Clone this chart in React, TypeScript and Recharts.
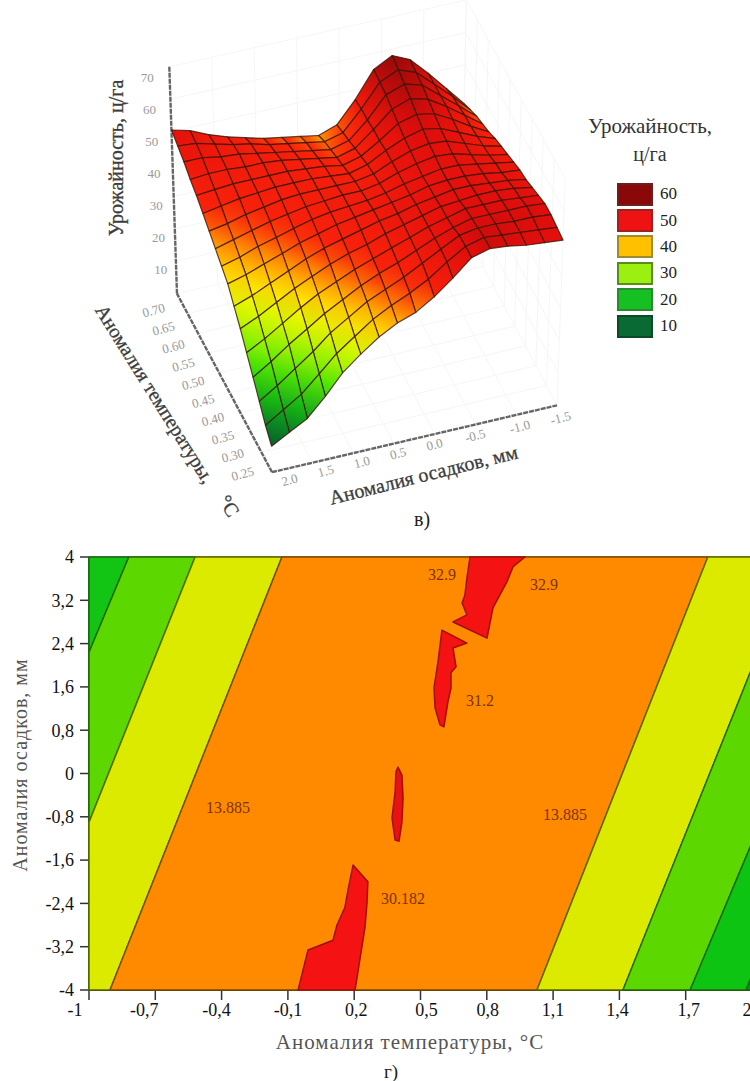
import { Legend, ReferenceLine, Scatter, ScatterChart, XAxis, YAxis } from 'recharts';

const SERIF = '"Liberation Serif", serif';

// surface: temperature anomaly (rows), precipitation anomaly (columns), yield
const tempGrid = [0.25, 0.278, 0.306, 0.334, 0.363, 0.391, 0.419, 0.447, 0.475, 0.503, 0.531, 0.559, 0.588, 0.616, 0.644, 0.672, 0.7];
const precipGrid = [2, 1.78, 1.56, 1.34, 1.13, 0.91, 0.69, 0.47, 0.25, 0.03, -0.19, -0.41, -0.63, -0.84, -1.06, -1.28, -1.5];
const yieldGrid = [
	[8, 11, 14, 19.5, 25.5, 30, 34, 37, 39, 42.5, 47, 52, 53.5, 53, 52, 51.5, 51],
	[11, 14.5, 18, 23, 28, 32, 36, 39, 41.5, 44.5, 48.5, 52, 53.5, 53, 52.5, 52, 51.5],
	[15, 18.5, 22.5, 26.5, 31, 34.5, 38, 40.5, 43, 46, 49, 52, 53, 53, 52.5, 52.5, 52],
	[19, 22.5, 26.5, 30, 33.5, 36.5, 39.5, 42, 44, 46.5, 49, 51, 52.5, 52.5, 52.5, 52.5, 52],
	[23, 26, 29.5, 33, 36, 38.5, 41, 43, 45, 47, 49, 50.5, 52, 52, 52, 51.5, 51],
	[27, 29.5, 32.5, 35.5, 38, 40.5, 42.5, 44, 46, 47.5, 49, 50.5, 51, 51.5, 51.5, 51, 50],
	[30.5, 32.5, 35, 37.5, 40, 42, 43.5, 45, 46.5, 47.5, 49, 50, 51, 51, 50.5, 50, 49],
	[34, 35.5, 37.5, 39.5, 41.5, 43, 44.5, 45.5, 46.5, 47.5, 48.5, 50, 50.5, 50.5, 50, 49, 48.5],
	[36, 37.5, 39.5, 41, 42.5, 44, 45, 45.5, 46, 47, 48.5, 49.5, 50.5, 50.5, 49.5, 48.5, 47.5],
	[38, 39.5, 41, 42.5, 43.5, 44.5, 45, 45.5, 45.5, 46.5, 48.5, 50, 51, 50.5, 49, 47.5, 46.5],
	[40, 41, 42.5, 43.5, 44.5, 45, 45, 45, 45, 46, 48.5, 50.5, 51.5, 51, 49, 47, 45.5],
	[42, 43, 44, 44.5, 45, 45, 45, 44.5, 44, 45.5, 48.5, 51, 52.5, 51.5, 49, 46.5, 44.5],
	[44, 44.5, 45, 45, 45, 45, 44.5, 44, 43, 44.5, 48, 52, 53.5, 52.5, 49.5, 46, 43],
	[45.5, 46, 46, 45.5, 45.5, 45, 44, 43, 42, 43.5, 48, 53, 55, 53.5, 50, 46, 42],
	[47.5, 47.5, 46.5, 46, 45, 44, 43, 42, 41, 42.5, 47.5, 54, 56, 54.5, 50, 45.5, 41],
	[49, 48.5, 47, 45.5, 44.5, 43, 42, 41, 40, 41.5, 47.5, 54.5, 57, 55, 50, 45, 39.5],
	[50.5, 49, 46.5, 44.5, 43, 41.5, 40.5, 39.5, 38.5, 40.5, 47, 55, 58, 55.5, 50, 44, 38],
];

const tempTicks = [0.25, 0.3, 0.35, 0.4, 0.45, 0.5, 0.55, 0.6, 0.65, 0.7];
const precipTicks = [2, 1.5, 1, 0.5, 0, -0.5, -1, -1.5];
const yieldTicks = [10, 20, 30, 40, 50, 60, 70];

const legendLevels = ['60', '50', '40', '30', '20', '10'];
const legendFills = ['#8a0808', '#ee1212', '#ffc000', '#9cf010', '#16c022', '#0a6a34'];
const legendBorders = ['#6a2020', '#a02020', '#a08a30', '#5a8a20', '#2a8a30', '#0a4a28'];

const colorLevels = [8, 14, 20, 26, 33, 38, 42, 52, 60];
const colorRgb = [
	[8, 92, 44],
	[10, 160, 30],
	[40, 230, 0],
	[165, 245, 0],
	[255, 245, 0],
	[255, 165, 0],
	[250, 35, 10],
	[225, 14, 12],
	[125, 8, 8],
];

// contour plot: every zone is a closed outline in data units
const xTicks = [-1, -0.7, -0.4, -0.1, 0.2, 0.5, 0.8, 1.1, 1.4, 1.7, 2];
const xTickShift = [-14, -11, -5, 0, 2, 6, 1, 0, -2, 3, -5];
const yTicks = [-4, -3.2, -2.4, -1.6, -0.8, 0, 0.8, 1.6, 2.4, 3.2, 4];

const zoneDarkLeftX = [-1, -0.82, -1];
const zoneDarkLeftY = [4, 4, 2.24];
const zoneGreenLeftX = [-1, -0.82, -0.52, -1];
const zoneGreenLeftY = [2.24, 4, 4, -0.9];
const zoneYellowLeftX = [-1, -0.52, -0.127, -0.905, -1];
const zoneYellowLeftY = [-0.9, 4, 4, -4, -4];
const zoneOrangeX = [-0.905, -0.127, 1.8, 1.027];
const zoneOrangeY = [-4, 4, 4, -4];
const zoneYellowRightX = [1.027, 1.8, 2, 2, 1.416];
const zoneYellowRightY = [-4, 4, 4, 1.95, -4];
const zoneGreenRightX = [1.416, 2, 2, 1.72];
const zoneGreenRightY = [-4, 1.95, -1.28, -4];
const zoneDarkRightX = [1.72, 2, 2, 1.973];
const zoneDarkRightY = [-4, -1.28, -3.72, -4];
const zoneCornerX = [1.973, 2, 2];
const zoneCornerY = [-4, -3.72, -4];

const peakTopX = [0.724, 0.71, 0.701, 0.688, 0.71, 0.647, 0.801, 0.828, 0.891, 0.919, 0.973];
const peakTopY = [4, 3.61, 3.3, 3.15, 2.93, 2.8, 2.5, 3.06, 3.54, 3.82, 4];
const peakMidX = [0.597, 0.71, 0.647, 0.661, 0.638, 0.638, 0.624, 0.606, 0.588, 0.566, 0.561, 0.579];
const peakMidY = [2.65, 2.41, 2.32, 1.97, 1.86, 1.58, 1.32, 0.86, 0.9, 1.21, 1.58, 2.06];
const peakThinX = [0.398, 0.416, 0.421, 0.416, 0.403, 0.385, 0.371, 0.385, 0.389];
const peakThinY = [0.12, -0.03, -0.45, -0.9, -1.25, -1.23, -0.82, -0.34, 0.03];
const peakLowX = [-0.054, -0.009, 0.104, 0.122, 0.158, 0.172, 0.195, 0.262, 0.258, 0.249, 0.204];
const peakLowY = [-4, -3.26, -3.08, -2.8, -2.47, -2.15, -1.69, -2, -2.39, -2.84, -4];

const contourLabels = ['13.885', '13.885', '32.9', '32.9', '31.2', '30.182'];
const contourLabelX = [-0.371, 1.154, 0.597, 1.059, 0.769, 0.421];
const contourLabelY = [-0.656, -0.8, 3.65, 3.46, 1.32, -2.34];

const zip = (xs: number[], ys: number[]) => xs.map((x, i) => ({ x, y: ys[i] }));
const comma = (v: number) => String(v).replace('.', ',');

// fixed oblique view of the 3D box, from the three axes of the picture
function project(temp: number, precip: number, value: number) {
	const u = (temp - 0.25) / 0.45;
	const v = (2 - precip) / 3.5;
	const bx = 272 - 95 * u + 285 * v;
	const by = 472 - 179 * u - 67 * v;
	return { x: bx + value * (bx - 360) * 0.0006, y: by - 3.25 * value };
}

function colorFor(value: number) {
	let k = 0;
	while (k < colorLevels.length - 2 && value > colorLevels[k + 1]) k++;
	const t = Math.min(1, Math.max(0, (value - colorLevels[k]) / (colorLevels[k + 1] - colorLevels[k])));
	const c = colorRgb[k].map((a, n) => Math.round(a + (colorRgb[k + 1][n] - a) * t));
	return `rgb(${c[0]},${c[1]},${c[2]})`;
}

const surfacePoints = tempGrid.flatMap((t, i) => precipGrid.map((p, j) => project(t, p, yieldGrid[i][j])));

const wallSegments = [
	...precipTicks.flatMap((p) => [project(0.7, p, 0), project(0.7, p, 70), project(0.25, p, 0), project(0.7, p, 0)]),
	...tempTicks.flatMap((t) => [project(t, -1.5, 0), project(t, -1.5, 70), project(t, 2, 0), project(t, -1.5, 0)]),
	...yieldTicks.flatMap((z) => [project(0.7, 2, z), project(0.7, -1.5, z), project(0.7, -1.5, z), project(0.25, -1.5, z)]),
];

const tempAxis = tempTicks.map((t) => ({ ...project(t, 2, 0), label: t.toFixed(2), along: (t - 0.25) / 0.45 }));
const precipAxis = precipTicks.map((p) => ({ ...project(0.25, p, 0), label: p.toFixed(1), along: (2 - p) / 3.5 }));
const yieldAxis = [
	{ ...project(0.7, 2, 0), label: '', along: 0 },
	...yieldTicks.map((z) => ({ ...project(0.7, 2, z), label: String(z), along: z / 70 })),
];

const noDot = () => <g />;

function SurfaceCells({ points }: any) {
	const n = precipGrid.length;
	const cells = [];
	// back to front so the near cells cover the far ones
	for (let i = tempGrid.length - 2; i >= 0; i--) {
		for (let j = n - 2; j >= 0; j--) {
			const idx = [i * n + j, i * n + j + 1, (i + 1) * n + j + 1, (i + 1) * n + j];
			const zs = [yieldGrid[i][j], yieldGrid[i][j + 1], yieldGrid[i + 1][j + 1], yieldGrid[i + 1][j]];
			const lo = zs.indexOf(Math.min(...zs));
			const hi = zs.indexOf(Math.max(...zs));
			const id = `cell-${i}-${j}`;
			cells.push(
				<g key={id}>
					<linearGradient id={id} gradientUnits="userSpaceOnUse" x1={points[idx[lo]].x} y1={points[idx[lo]].y} x2={points[idx[hi]].x} y2={points[idx[hi]].y}>
						<stop offset="0" stopColor={colorFor(zs[lo])} />
						<stop offset="1" stopColor={colorFor(zs[hi])} />
					</linearGradient>
					<polygon
						points={idx.map((k) => `${points[k].x},${points[k].y}`).join(' ')}
						fill={`url(#${id})`}
						stroke="#3a1406"
						strokeOpacity={0.8}
						strokeWidth={1.2}
						strokeLinejoin="round"
					/>
				</g>,
			);
		}
	}
	return <g>{cells}</g>;
}

function Segments({ points }: any) {
	const lines = [];
	for (let k = 0; k + 1 < points.length; k += 2) {
		lines.push(<line key={k} x1={points[k].x} y1={points[k].y} x2={points[k + 1].x} y2={points[k + 1].y} stroke="#f6f6f6" />);
	}
	return <g>{lines}</g>;
}

const axisLine = (props: any) => (
	<polyline
		points={props.points.map((p: any) => `${p.x},${p.y}`).join(' ')}
		fill="none"
		stroke="#666"
		strokeWidth={2.4}
		strokeDasharray="5 1"
	/>
);

// label offsets drift along each axis, the view is not a true parallel one
const tickText = (offset: (along: number) => number[], angle: number) => (props: any) => {
	const [dx, dy] = offset(props.payload.along);
	const x = props.cx + dx;
	const y = props.cy + dy;
	return (
		<text
			x={x}
			y={y}
			textAnchor="middle"
			dominantBaseline="middle"
			fontFamily={SERIF}
			fontSize={13}
			fill="#999"
			transform={`rotate(${angle} ${x} ${y})`}
		>
			{props.payload.label}
		</text>
	);
};

const tempOffset = (a: number) => [-29 + 6 * a, 3 + 15 * a];
const precipOffset = (a: number) => [Math.max(0, 18 - 32 * a) + (a > 0.8 ? 4 : 0), 9 + 5 * a];
const yieldOffset = (a: number) => [-14 - 8 * a, 9 + 3 * a];

function LegendBoxes() {
	return (
		<div style={{ fontFamily: SERIF, fontSize: 17, color: '#222' }}>
			{legendLevels.map((level, i) => (
				<div key={level} style={{ display: 'flex', alignItems: 'center', height: 26.4 }}>
					<div style={{ width: 32, height: 19, background: legendFills[i], border: `2px solid ${legendBorders[i]}`, marginRight: 7 }} />
					{level}
				</div>
			))}
		</div>
	);
}

const zoneScatter = (key: string, xs: number[], ys: number[], fill: string, stroke: string) => (
	<Scatter
		key={key}
		data={zip(xs, ys)}
		isAnimationActive={false}
		shape={noDot}
		line={(props: any) => (
			<polygon
				points={props.points.map((p: any) => `${p.x},${p.y}`).join(' ')}
				fill={fill}
				stroke={stroke}
				strokeWidth={1.5}
				strokeLinejoin="round"
			/>
		)}
	/>
);

const contourText = (props: any) => (
	<text x={props.cx} y={props.cy} textAnchor="middle" dominantBaseline="middle" fontFamily={SERIF} fontSize={16} fill="#7c3200">
		{props.payload.label}
	</text>
);

const xTick = (props: any) => (
	<text
		x={props.x + xTickShift[xTicks.indexOf(props.payload.value)]}
		y={props.y + 14}
		textAnchor="middle"
		fontFamily={SERIF}
		fontSize={18}
		fill="#111"
	>
		{comma(props.payload.value)}
	</text>
);

function SurfaceChart() {
	return (
		<ScatterChart width={750} height={535} margin={{ top: 0, right: 0, bottom: 0, left: 0 }}>
			<XAxis type="number" dataKey="x" domain={[0, 750]} hide />
			<YAxis type="number" dataKey="y" domain={[0, 535]} reversed hide />
			<Scatter data={wallSegments} isAnimationActive={false} shape={noDot} line={(p: any) => <Segments points={p.points} />} />
			<Scatter data={tempAxis} isAnimationActive={false} shape={tickText(tempOffset, -15)} line={axisLine} />
			<Scatter data={precipAxis} isAnimationActive={false} shape={tickText(precipOffset, -15)} line={axisLine} />
			<Scatter data={yieldAxis} isAnimationActive={false} shape={tickText(yieldOffset, 0)} line={axisLine} />
			<Scatter data={surfacePoints} isAnimationActive={false} shape={noDot} line={(p: any) => <SurfaceCells points={p.points} />} />
			<Legend layout="vertical" align="center" verticalAlign="middle" content={<LegendBoxes />} wrapperStyle={{ left: 617, top: 181, width: 90 }} />
		</ScatterChart>
	);
}

function ContourChart() {
	return (
		<ScatterChart width={760} height={546} margin={{ top: 22, right: 8, bottom: 51, left: 29 }}>
			<XAxis
				type="number"
				dataKey="x"
				domain={[-1, 2]}
				ticks={xTicks}
				interval={0}
				height={40}
				tick={xTick}
				tickLine={{ stroke: '#333', strokeWidth: 1.5 }}
				tickSize={10}
				axisLine={false}
			/>
			<YAxis
				type="number"
				dataKey="y"
				domain={[-4, 4]}
				ticks={yTicks}
				interval={0}
				width={60}
				tickFormatter={comma}
				tick={{ fill: '#111', fontSize: 18, fontFamily: SERIF }}
				tickLine={{ stroke: '#333', strokeWidth: 1.5 }}
				tickSize={9}
				tickMargin={6}
				axisLine={false}
			/>
			{zoneScatter('dl', zoneDarkLeftX, zoneDarkLeftY, '#12c414', '#1a6a10')}
			{zoneScatter('gl', zoneGreenLeftX, zoneGreenLeftY, '#5cd800', '#1f6a08')}
			{zoneScatter('yl', zoneYellowLeftX, zoneYellowLeftY, '#dcea00', '#5a6a00')}
			{zoneScatter('or', zoneOrangeX, zoneOrangeY, '#ff8a00', '#7a4a08')}
			{zoneScatter('yr', zoneYellowRightX, zoneYellowRightY, '#dcea00', '#5a6a00')}
			{zoneScatter('gr', zoneGreenRightX, zoneGreenRightY, '#5cd800', '#1f6a08')}
			{zoneScatter('dr', zoneDarkRightX, zoneDarkRightY, '#0ec412', '#1a6a10')}
			{zoneScatter('cr', zoneCornerX, zoneCornerY, '#0a8a2a', '#1a6a10')}
			{zoneScatter('p1', peakTopX, peakTopY, '#f41212', '#a01008')}
			{zoneScatter('p2', peakMidX, peakMidY, '#f41212', '#a01008')}
			{zoneScatter('p3', peakThinX, peakThinY, '#e81212', '#a01008')}
			{zoneScatter('p4', peakLowX, peakLowY, '#f41212', '#a01008')}
			<ReferenceLine x={-1} stroke="#2c6a10" strokeWidth={2} />
			<ReferenceLine y={4} stroke="#7a6020" strokeWidth={1.6} />
			<ReferenceLine y={-4} stroke="#3c3a08" strokeWidth={1.8} />
			<Scatter
				data={contourLabels.map((label, i) => ({ x: contourLabelX[i], y: contourLabelY[i], label }))}
				isAnimationActive={false}
				shape={contourText}
			/>
		</ScatterChart>
	);
}

export default function App() {
	const title = { fontFamily: SERIF, fill: '#3c3c3c', stroke: '#3c3c3c', strokeWidth: 0.3, fontSize: 20, textAnchor: 'middle', dominantBaseline: 'middle' } as const;
	return (
		<div style={{ position: 'absolute', left: 0, top: 0, width: 750, height: 1081, overflow: 'hidden', background: '#fff' }}>
			<div style={{ position: 'absolute', left: 0, top: 0 }}>
				<SurfaceChart />
			</div>
			<div style={{ position: 'absolute', left: 0, top: 535 }}>
				<ContourChart />
			</div>
			<svg width={750} height={1081} style={{ position: 'absolute', left: 0, top: 0, pointerEvents: 'none' }}>
				<text {...title} transform="translate(118 158) rotate(-90)">
					Урожайность, ц/га
				</text>
				<text {...title} transform="translate(153 395) rotate(58)">
					Аномалия температуры,
				</text>
				<text {...title} transform="translate(227 507) rotate(58)">
					°C
				</text>
				<text {...title} transform="translate(424 477) rotate(-14)">
					Аномалия осадков, мм
				</text>
				<text x={422} y={526} fontSize={20} textAnchor="middle" fontFamily={SERIF} fill="#222">
					в)
				</text>
				<text x={650} y={133} fontSize={21} textAnchor="middle" fontFamily={SERIF} fill="#333">
					Урожайность,
				</text>
				<text x={650} y={161} fontSize={20} textAnchor="middle" fontFamily={SERIF} fill="#333">
					ц/га
				</text>
				<text x={410} y={1049} fontSize={21} letterSpacing={1} textAnchor="middle" fontFamily={SERIF} fill="#555">
					Аномалия температуры, °C
				</text>
				<text x={391} y={1078} fontSize={19} textAnchor="middle" fontFamily={SERIF} fill="#222">
					г)
				</text>
				<text fontSize={20} letterSpacing={1} textAnchor="middle" dominantBaseline="middle" fontFamily={SERIF} fill="#555" transform="translate(22 765) rotate(-90)">
					Аномалия осадков, мм
				</text>
			</svg>
		</div>
	);
}
